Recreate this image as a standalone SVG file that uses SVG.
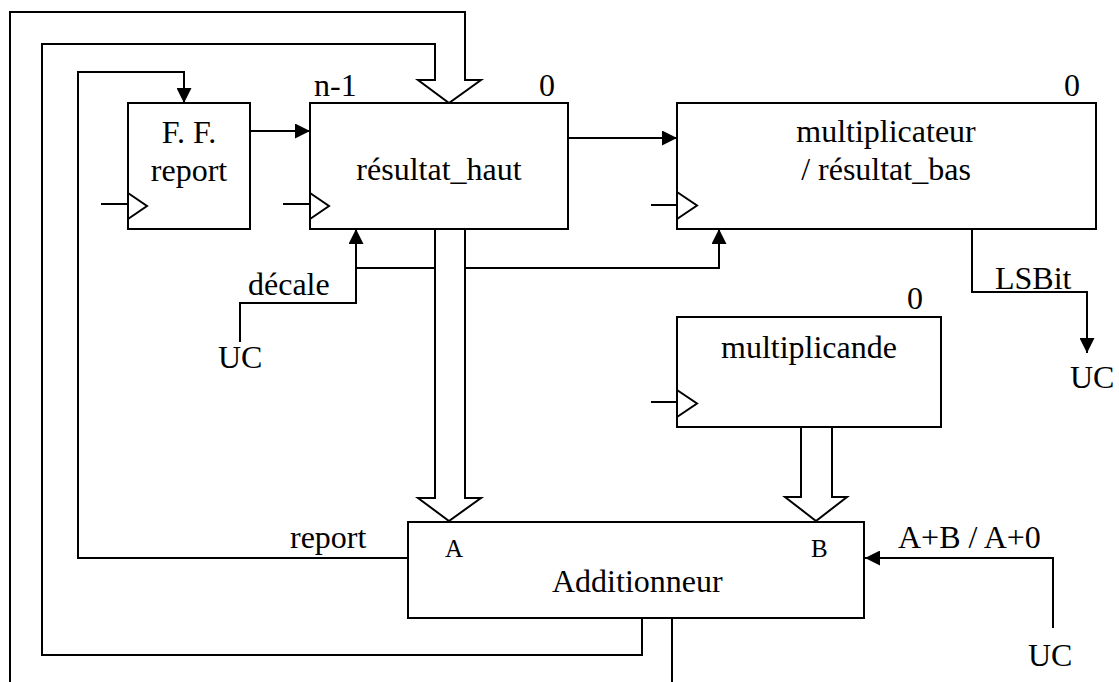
<svg xmlns="http://www.w3.org/2000/svg" width="1119" height="682" viewBox="0 0 1119 682">
  <style>
    .box { fill: #fff; stroke: #000; stroke-width: 2; }
    .wire { fill: none; stroke: #000; stroke-width: 2; }
    .arr { fill: none; stroke: #000; stroke-width: 2; marker-end: url(#head); }
    .clk { fill: none; stroke: #000; stroke-width: 2; }
    text { font-family: "Liberation Serif", "Times New Roman", serif; font-size: 32px; fill: #000; }
    .mid { text-anchor: middle; }
    .port { font-size: 25px; }
  </style>
  <defs>
    <marker id="head" markerUnits="userSpaceOnUse" markerWidth="15" markerHeight="15" refX="15" refY="7.5" orient="auto">
      <path d="M0,0 L15,7.5 L0,15 Z" fill="#000"/>
    </marker>
  </defs>
  <rect width="1119" height="682" fill="#fff"/>

  <!-- connectors -->
  <g id="connectors">
    <!-- adder output bus looping back into résultat_haut -->
    <path class="wire" d="M10,682 V12 H465 V80 H481 L449,103 L418,80 H435 V44 H42 V655 H642 V618"/>
    <path class="wire" d="M672,618 V682"/>
    <!-- carry out to flip-flop -->
    <path class="arr" d="M408,558 H78 V72 H184 V103"/>
    <!-- flip-flop to résultat_haut -->
    <path class="arr" d="M250,131 H310"/>
    <!-- résultat_haut to multiplicateur -->
    <path class="arr" d="M568,138 H677"/>
    <!-- shift control -->
    <path class="arr" d="M240,342 V303 H356 V229"/>
    <path class="wire" d="M356,268 H435"/>
    <path class="arr" d="M465,268 H719 V229"/>
    <!-- LSBit to control unit -->
    <path class="arr" d="M972,229 V292 H1087 V353"/>
    <!-- operation select -->
    <path class="arr" d="M1053,628 V558 H865"/>
    <!-- buses into adder -->
    <path class="wire" d="M435,229 V498 H418 L449,521 L481,498 H465 V229"/>
    <path class="wire" d="M801,427 V497 H785 L816,521 L847,497 H832 V427"/>
    <!-- clock inputs -->
    <path class="wire" d="M101,204 H128"/>
    <path class="wire" d="M283,204 H310"/>
    <path class="wire" d="M651,205 H677"/>
    <path class="wire" d="M651,402 H677"/>
  </g>

  <g id="ff-report">
    <rect class="box" x="128" y="103" width="122" height="126"/>
    <polyline class="clk" points="128,193 147,206 128,219"/>
    <text class="mid" x="189" y="143">F. F.</text>
    <text class="mid" x="189" y="181">report</text>
  </g>

  <g id="resultat-haut">
    <rect class="box" x="310" y="103" width="258" height="126"/>
    <polyline class="clk" points="310,193 329,206 310,219"/>
    <text x="314" y="96">n-1</text>
    <text x="539" y="96">0</text>
    <text class="mid" x="439" y="180">résultat_haut</text>
  </g>

  <g id="multiplicateur">
    <rect class="box" x="677" y="103" width="419" height="126"/>
    <polyline class="clk" points="677,192 697,205.5 677,219"/>
    <text x="1064" y="96">0</text>
    <text class="mid" x="886" y="142">multiplicateur</text>
    <text class="mid" x="886" y="180">/ résultat_bas</text>
  </g>

  <g id="multiplicande">
    <rect class="box" x="677" y="317" width="264" height="110"/>
    <polyline class="clk" points="677,390 697,403.5 677,417"/>
    <text x="907" y="309">0</text>
    <text x="721" y="358">multiplicande</text>
  </g>

  <g id="additionneur">
    <rect class="box" x="408" y="522" width="456" height="96"/>
    <text class="port" x="445" y="557">A</text>
    <text class="port" x="811" y="557">B</text>
    <text x="552" y="592">Additionneur</text>
  </g>

  <g id="labels">
    <text x="248" y="295">décale</text>
    <text x="218" y="368">UC</text>
    <text x="995" y="289">LSBit</text>
    <text x="1070" y="388">UC</text>
    <text x="290" y="548">report</text>
    <text x="898" y="548">A+B / A+0</text>
    <text x="1028" y="666">UC</text>
  </g>
</svg>
